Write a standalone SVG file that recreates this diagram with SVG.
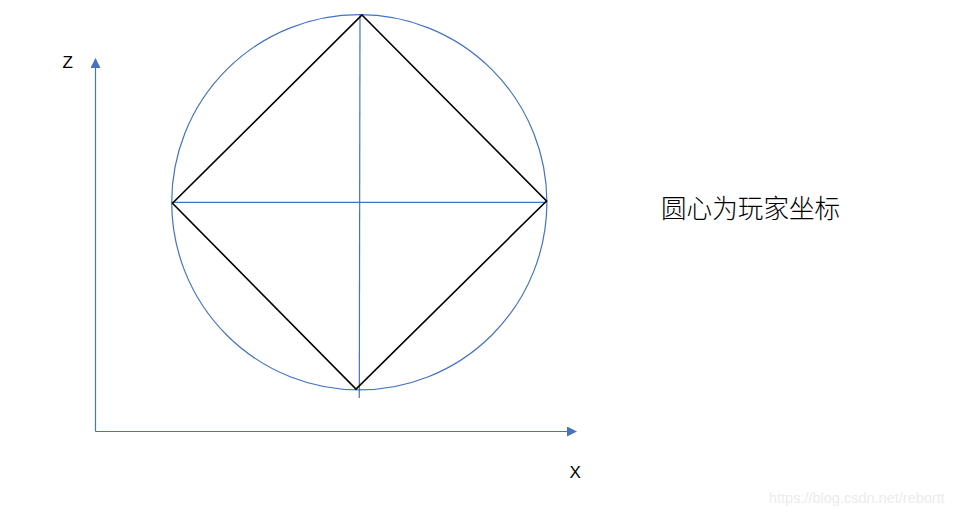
<svg xmlns="http://www.w3.org/2000/svg" width="970" height="518" viewBox="0 0 970 518">
<defs>
<style>
.blue{stroke:#4472C4;stroke-width:1.2;fill:none}
.black{stroke:#000;stroke-width:1.6;fill:none;stroke-linejoin:miter}
.lbl{font-family:"Liberation Sans","Noto Sans",Arial,sans-serif;font-size:17px;fill:#000}
.cjk{font-family:"Noto Sans CJK SC","Liberation Sans",sans-serif;font-size:25.6px;font-weight:300;fill:#000}
.wm{font-family:"Liberation Sans",Arial,sans-serif;font-size:14.5px;fill:#ececec}
</style>
<marker id="arr" viewBox="0 0 10 10" refX="9" refY="5" markerWidth="10" markerHeight="10" markerUnits="userSpaceOnUse" orient="auto">
<path d="M0,0 L10,5 L0,10 Z" fill="#4472C4"/>
</marker>
</defs>
<rect width="970" height="518" fill="#fff"/>
<g id="axes">
<path class="blue" d="M95.5,431.5 L95.5,59" marker-end="url(#arr)"/>
<path class="blue" d="M95.5,431.5 L576,431.5" marker-end="url(#arr)"/>
<text class="lbl" x="62.5" y="68">Z</text>
<text class="lbl" x="569.5" y="478">X</text>
</g>
<g id="circle">
<circle class="blue" cx="359.3" cy="202.3" r="187.6"/>
<line class="blue" x1="360" y1="14.5" x2="359.3" y2="398"/>
<line class="blue" x1="172" y1="202.3" x2="547" y2="202.3"/>
</g>
<g id="diamond">
<path class="black" d="M362,15 L546.5,201 L356,389 L172.5,203.3 Z"/>
</g>
<g id="label">
<text class="cjk" x="661" y="217.5">圆心为玩家坐标</text>
</g>
<text class="wm" x="769" y="503">https://blog.csdn.net/rebortt</text>
</svg>
